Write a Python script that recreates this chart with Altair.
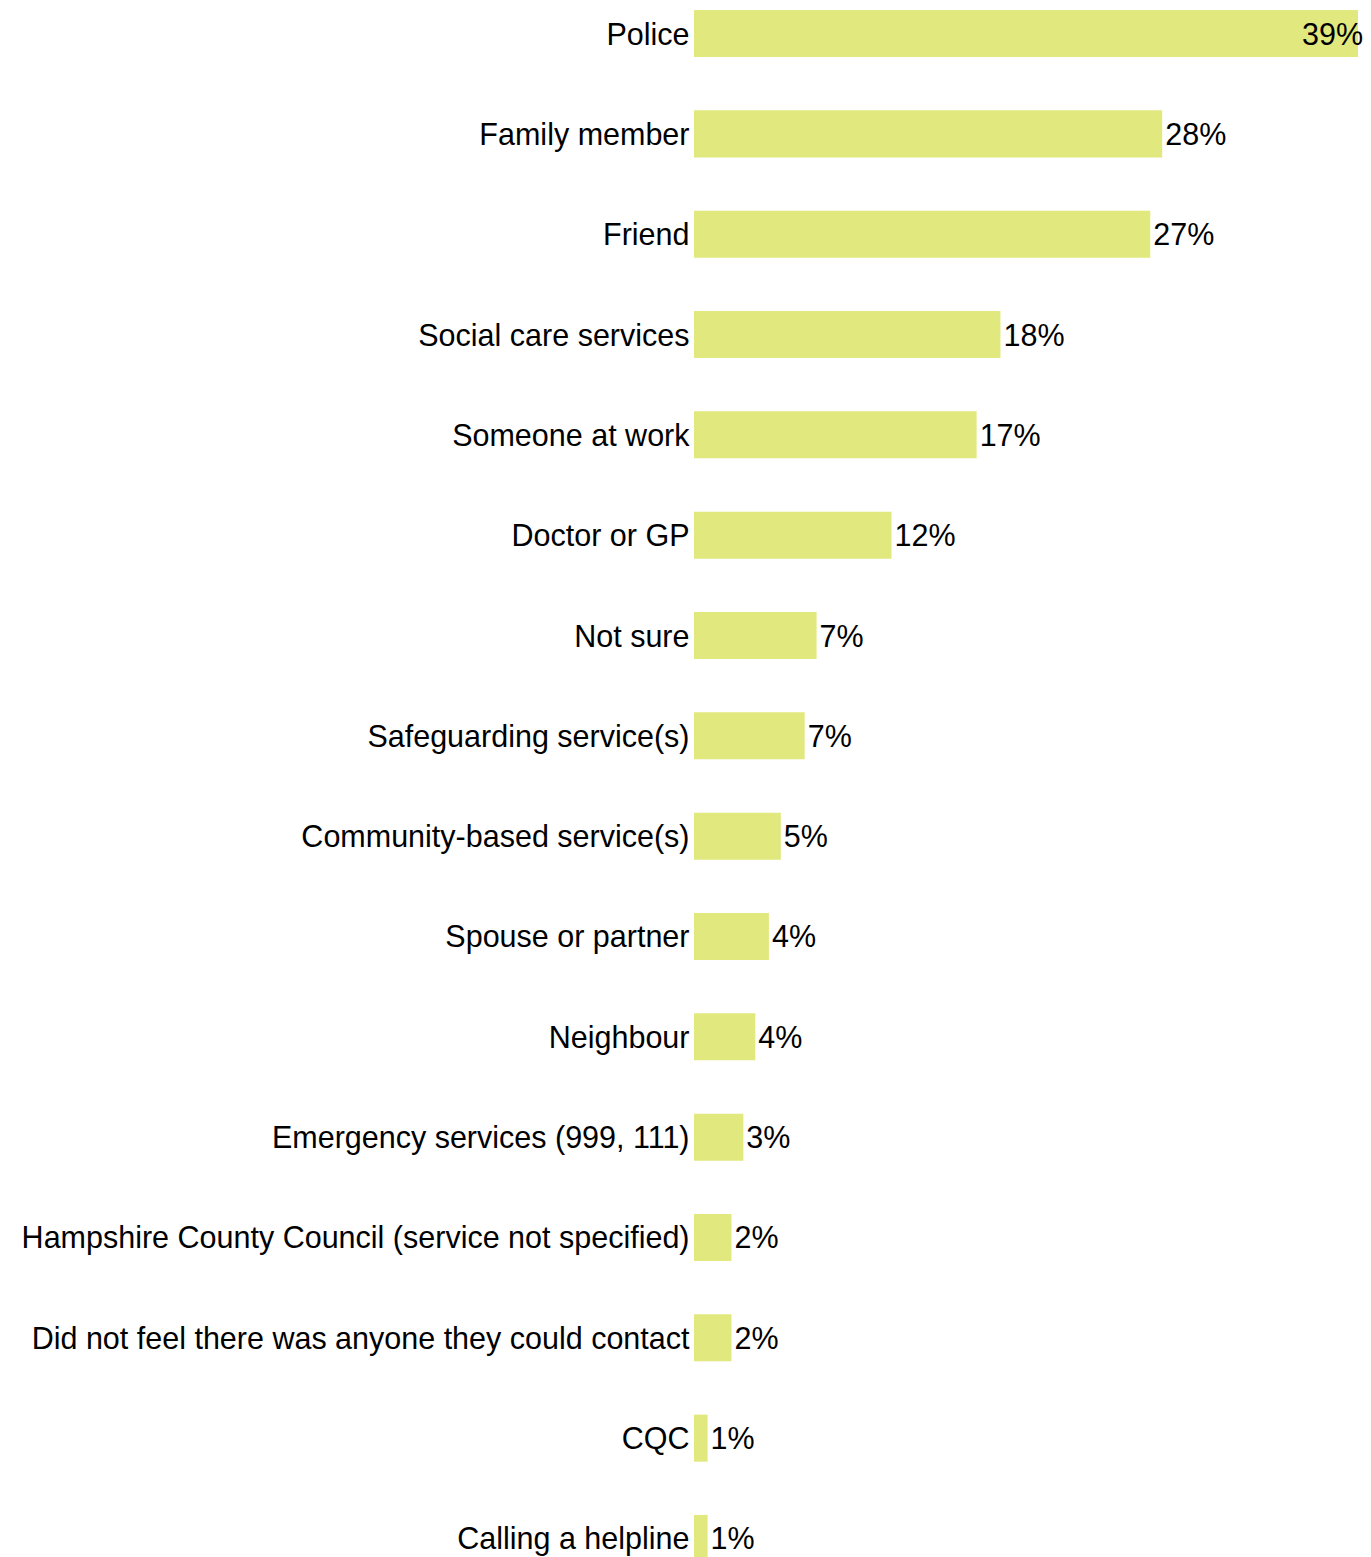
import altair as alt
import pandas as pd

categories = [
    "Police",
    "Family member",
    "Friend",
    "Social care services",
    "Someone at work",
    "Doctor or GP",
    "Not sure",
    "Safeguarding service(s)",
    "Community-based service(s)",
    "Spouse or partner",
    "Neighbour",
    "Emergency services (999, 111)",
    "Hampshire County Council (service not specified)",
    "Did not feel there was anyone they could contact",
    "CQC",
    "Calling a helpline",
]
values = [39.0, 27.5, 26.8, 18.0, 16.6, 11.6, 7.2, 6.5, 5.1, 4.4, 3.6, 2.9, 2.2, 2.2, 0.8, 0.8]
labels = ["39%", "28%", "27%", "18%", "17%", "12%", "7%", "7%", "5%", "4%", "4%", "3%", "2%", "2%", "1%", "1%"]

df = pd.DataFrame({"category": categories, "value": values, "label": labels})

FONT = "Liberation Sans, Arial, sans-serif"
FS = 30.5

base = alt.Chart(df).encode(
    y=alt.Y(
        "category:N",
        sort=categories,
        scale=alt.Scale(paddingInner=0.531, paddingOuter=0),
        axis=alt.Axis(
            title=None,
            domain=False,
            ticks=False,
            grid=False,
            labelFontSize=FS,
            labelFont=FONT,
            labelColor="black",
            labelPadding=5,
            labelLimit=1000,
            labelOffset=2,
        ),
    )
)

xenc = alt.X("value:Q", scale=alt.Scale(domain=[0, 39], nice=False, zero=True), axis=None)

bars = base.mark_bar(color="#E0E87E").encode(x=xenc)

text_main = (
    base.transform_joinaggregate(maxv="max(value)")
    .transform_filter("datum.value < datum.maxv")
    .mark_text(align="left", baseline="middle", dx=3, dy=2, fontSize=FS, font=FONT, color="black")
    .encode(x="value:Q", text="label:N")
)

text_top = (
    base.transform_joinaggregate(maxv="max(value)")
    .transform_filter("datum.value >= datum.maxv")
    .mark_text(align="right", baseline="middle", dx=5, dy=2, fontSize=FS, font=FONT, color="black")
    .encode(x="value:Q", text="label:N")
)

chart = (
    alt.layer(bars, text_main, text_top)
    .properties(
        width=664,
        height=1552,
        autosize=alt.AutoSizeParams(type="none"),
        padding={"left": 686, "top": 2, "right": 5, "bottom": 0},
    )
    .configure_view(stroke=None)
)

chart.save("out.html", embed_options={"renderer": "svg", "actions": False})
